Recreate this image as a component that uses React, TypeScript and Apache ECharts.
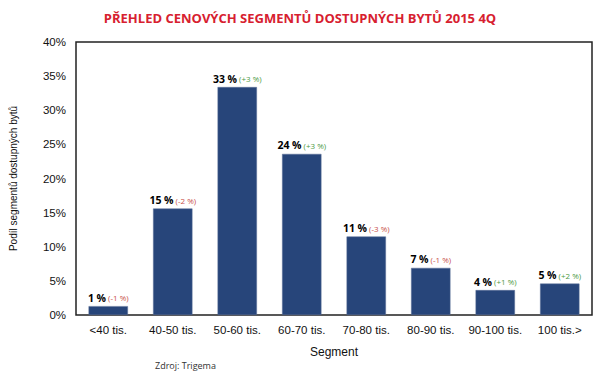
import React, { useEffect, useRef } from "react";
import * as echarts from "echarts";

const categories = ["<40 tis.", "40-50 tis.", "50-60 tis.", "60-70 tis.", "70-80 tis.", "80-90 tis.", "90-100 tis.", "100 tis.>"];
const shares = [1.3, 15.6, 33.4, 23.6, 11.5, 6.9, 3.65, 4.6];
const shareLabels = ["1 %", "15 %", "33 %", "24 %", "11 %", "7 %", "4 %", "5 %"];
const changeLabels = ["(-1 %)", "(-2 %)", "(+3 %)", "(+3 %)", "(-3 %)", "(-1 %)", "(+1 %)", "(+2 %)"];
const yTicks = [0, 5, 10, 15, 20, 25, 30, 35, 40];

export default function App() {
  const ref = useRef<HTMLDivElement>(null);
  useEffect(() => {
    if (!ref.current) return;
    const chart = echarts.init(ref.current, null, { renderer: "svg" });
    chart.setOption({
      animation: false,
      backgroundColor: "#ffffff",
      title: {
        text: "PŘEHLED CENOVÝCH SEGMENTŮ DOSTUPNÝCH BYTŮ 2015 4Q",
        left: "center",
        top: 6,
        textStyle: { color: "#d7202f", fontFamily: "Open Sans", fontWeight: "bold", fontSize: 13 },
      },
      graphic: [
        {
          type: "text",
          left: 155,
          top: 361,
          style: { text: "Zdroj: Trigema", fill: "#333", font: "9px 'Open Sans'" },
        },
      ],
      grid: {
        left: 68,
        top: 42,
        right: 8,
        bottom: 58,
        show: true,
        borderColor: "#222",
        borderWidth: 1.5,
        backgroundColor: "transparent",
      },
      xAxis: {
        type: "category",
        data: categories,
        name: "Segment",
        nameLocation: "middle",
        nameGap: 31,
        nameTextStyle: { color: "#111", fontFamily: "Liberation Sans", fontSize: 12 },
        axisLine: { show: false },
        axisTick: { show: false },
        axisLabel: { color: "#111", fontFamily: "Liberation Sans", fontSize: 11.5, margin: 9, interval: 0 },
      },
      yAxis: {
        type: "value",
        min: 0,
        max: 40,
        interval: 5,
        name: "Podíl segmentů dostupných bytů",
        nameLocation: "middle",
        nameGap: 58,
        nameTextStyle: { color: "#111", fontFamily: "Liberation Sans", fontSize: 10 },
        axisLine: { show: false },
        axisTick: { show: false },
        splitLine: { show: false },
        axisLabel: {
          color: "#111",
          fontFamily: "Liberation Sans",
          fontSize: 11.5,
          margin: 10,
          formatter: (v: number) => (yTicks.includes(v) ? v + "%" : ""),
        },
      },
      series: [
        {
          type: "bar",
          data: shares,
          barWidth: "61%",
          itemStyle: { color: "#27457a", borderColor: "#5a6f96", borderWidth: 0.5 },
          label: {
            show: true,
            position: "top",
            distance: 3,
            formatter: (p: any) => {
              const ch = changeLabels[p.dataIndex];
              const tag = ch.indexOf("-") >= 0 ? "r" : "g";
              return "{b|" + shareLabels[p.dataIndex] + "}{" + tag + "|" + ch + "}";
            },
            rich: {
              b: { color: "#000", fontFamily: "Open Sans", fontWeight: "bold", fontSize: 10.5, padding: [0, 2, 0, 0] },
              r: { color: "#c9504a", fontFamily: "Open Sans", fontSize: 8 },
              g: { color: "#4e9a45", fontFamily: "Open Sans", fontSize: 8 },
            },
          },
        },
      ],
    });
    return () => chart.dispose();
  }, []);
  return <div ref={ref} style={{ width: 600, height: 373, position: "absolute", left: 0, top: 0 }} />;
}
